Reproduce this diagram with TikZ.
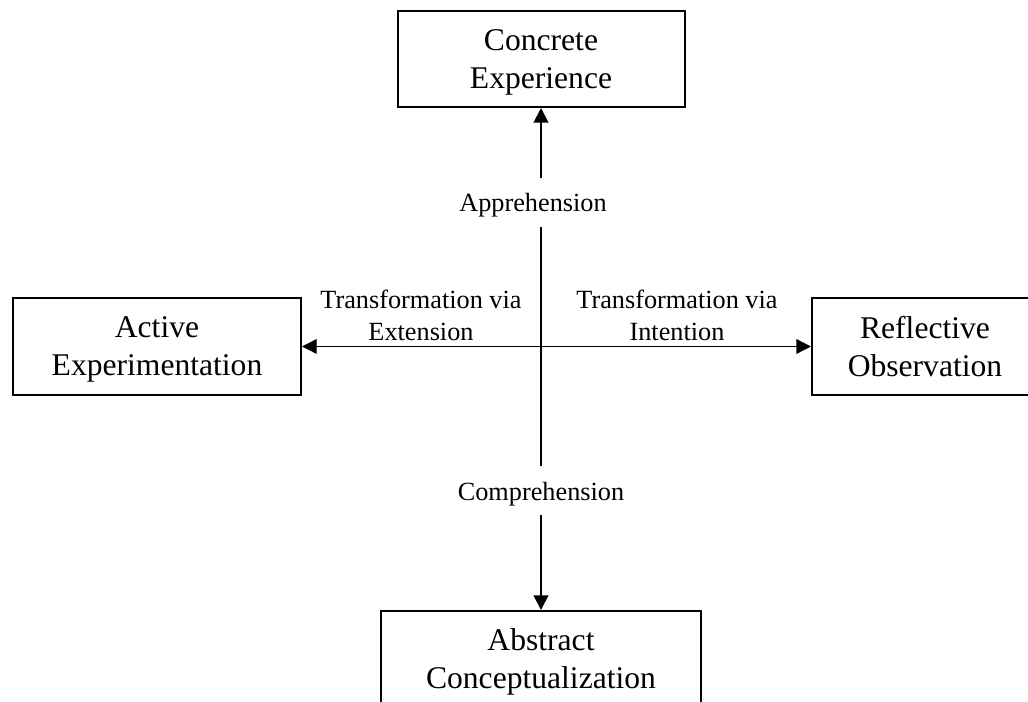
\documentclass[tikz,border=0pt]{standalone}
\usepackage{fontspec}
\setmainfont{Liberation Serif}
\usetikzlibrary{arrows.meta}
\begin{document}
\begin{tikzpicture}[x=0.75pt,y=-0.75pt,
  boxnode/.style={draw,line width=1.5pt,align=center,inner sep=0pt,text depth=0pt,
    font=\fontsize{23.7}{28.5}\selectfont},
  axislabel/.style={inner sep=0pt,text height=25.5pt,text depth=11.25pt,
    font=\fontsize{19.7}{24}\selectfont},
  sidelabel/.style={inner sep=0pt,align=center,font=\fontsize{19.7}{24}\selectfont},
  vaxis/.style={line width=1.5pt},
  tip/.style={vaxis,-{Triangle[length=11pt,width=11pt]}},
  bothtip/.style={line width=1pt,{Triangle[length=11pt,width=11pt]}-{Triangle[length=11pt,width=11pt]}}]
\useasboundingbox (0,0) rectangle (1028,702);
\clip (0,0) rectangle (1028,702);
\node[boxnode,minimum width=215.25pt,minimum height=72pt] (CE) at (541,59) {Concrete\\Experience};
\node[boxnode,minimum width=216pt,minimum height=72.75pt] (AE) at (157,346.5) {Active\\Experimentation};
\node[boxnode,minimum width=169.5pt,minimum height=72.75pt] (RO) at (925,346.5) {Reflective\\Observation};
\node[boxnode,minimum width=240pt,minimum height=72pt] (AC) at (541,659) {Abstract\\Conceptualization};
\node[axislabel,anchor=base] (app) at (533,212) {Apprehension};
\node[axislabel,anchor=base] (comp) at (541,500) {Comprehension};
\node[sidelabel] (ext) at (421,315) {Transformation via\\Extension};
\node[sidelabel] (int) at (677,315) {Transformation via\\Intention};
\draw[tip] (CE.south |- app.north) -- (CE.south);
\draw[vaxis] (CE.south |- app.south) -- (CE.south |- comp.north);
\draw[tip] (AC.north |- comp.south) -- (AC.north);
\draw[bothtip] (AE.east) -- (RO.west);
\end{tikzpicture}
\end{document}
